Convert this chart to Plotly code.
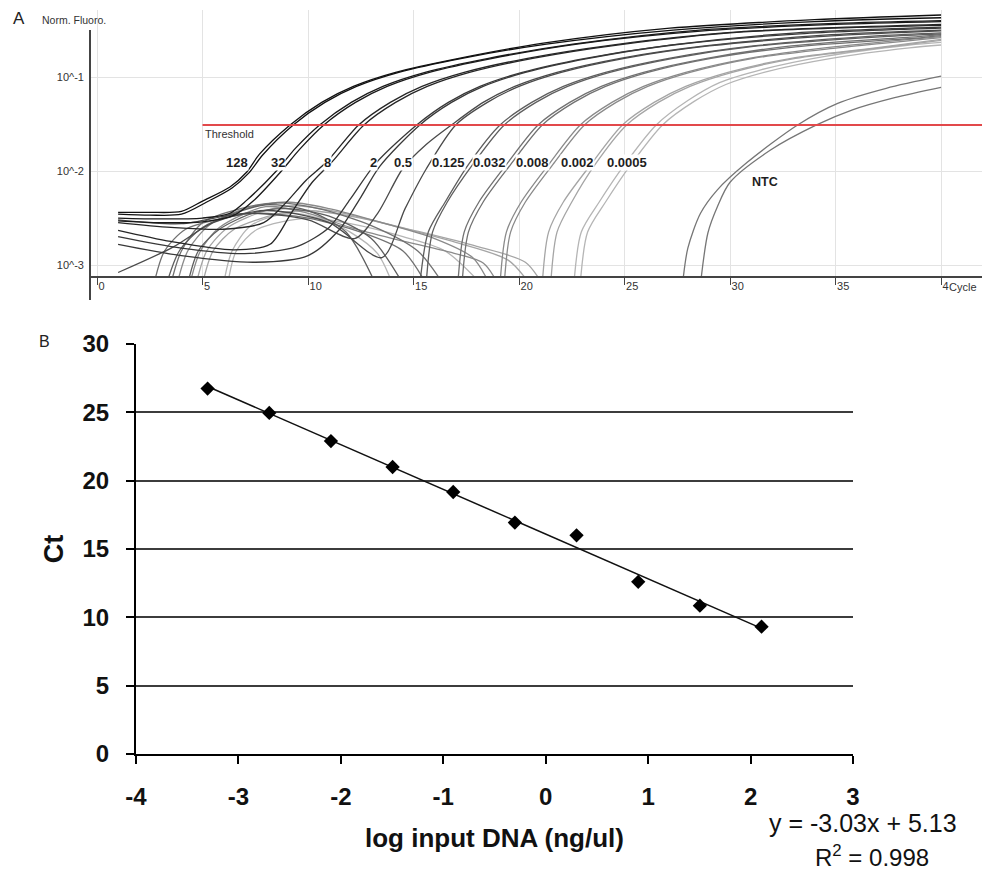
import numpy as np
import plotly.graph_objects as go

# ---------------- Panel A: real-time PCR amplification curves ----------------
# Template concentrations (ng/ul), one duplicate pair of runs per dilution
conc_labels = ["128", "32", "8", "2", "0.5", "0.125", "0.032", "0.008", "0.002", "0.0005"]
conc_ng_ul = [128, 32, 8, 2, 0.5, 0.125, 0.032, 0.008, 0.002, 0.0005]

threshold = 0.0309          # normalised fluorescence threshold
threshold_start = 5         # cycle where the threshold line begins

# cycle at which each concentration label sits, and the fluorescence level of the label row
label_cycle = [6.64, 8.58, 10.9, 13.08, 14.5, 16.64, 18.58, 20.66, 22.75, 25.12]
label_level = 0.0122
ntc_cycle, ntc_level = 31.66, 0.00764

GAP = (None, None)  # curve dips below zero (off the log axis)

# (cycle, normalised fluorescence) readings for every run
run_128a = [(1, 0.00363), (2.5, 0.00363), (4, 0.00372), (5, 0.00479), (6.3, 0.00676), (7.1, 0.00977),
            (7.7, 0.0151), (9.15, 0.0309), (10.65, 0.0537), (12.15, 0.0794), (14.15, 0.112),
            (17.15, 0.158), (21.15, 0.229), (27.15, 0.331), (34, 0.407), (40, 0.457)]
run_128b = [(1, 0.00347), (2.5, 0.00339), (4, 0.00347), (5.2, 0.00468), (6.4, 0.00661), (7.2, 0.00955),
            (7.85, 0.0148), (9.3, 0.0309), (10.8, 0.0537), (12.3, 0.0794), (14.3, 0.112),
            (17.3, 0.158), (21.3, 0.224), (27.3, 0.316), (34, 0.389), (40, 0.427)]
run_32a = [(1, 0.00316), (3, 0.00309), (5, 0.00316), (6.3, 0.00355), (7.1, 0.0049), (8.5, 0.0100),
           (9.4, 0.0174), (10.55, 0.0309), (12.05, 0.0537), (13.55, 0.0794), (15.55, 0.112),
           (18.55, 0.158), (22.55, 0.224), (28.55, 0.316), (35, 0.372), (40, 0.398)]
run_32b = [(1, 0.00295), (3, 0.00282), (5, 0.00288), (6.5, 0.00339), (7.4, 0.00479), (8.7, 0.00977),
           (9.6, 0.0170), (10.75, 0.0309), (12.25, 0.0537), (13.75, 0.0794), (15.75, 0.112),
           (18.75, 0.158), (22.75, 0.224), (28.75, 0.309), (35, 0.363), (40, 0.389)]
run_8a = [(1, 0.00282), (3.5, 0.00251), (6, 0.0024), (7.9, 0.00282), (8.9, 0.00447), (9.9, 0.00794),
          (10.9, 0.0126), (12.4, 0.0309), (13.9, 0.0537), (15.4, 0.0794), (17.4, 0.112),
          (20.4, 0.158), (24.4, 0.219), (30.4, 0.302), (40, 0.363)]
run_8b = [(1, 0.00234), (3.5, 0.00178), (6.5, 0.00145), (8.2, 0.00166), (9.2, 0.00355), (10.2, 0.00759),
          (11.15, 0.0126), (12.65, 0.0309), (14.15, 0.0537), (15.65, 0.0794), (17.65, 0.112),
          (20.65, 0.158), (24.65, 0.219), (30.65, 0.302), (40, 0.355)]
run_2a = [(1, 0.0020), (4, 0.00151), (7, 0.00132), (9.5, 0.00158), (11, 0.00251), (12, 0.00501),
          (13.2, 0.0120), (15.15, 0.0309), (16.65, 0.0537), (18.15, 0.0794), (20.15, 0.112),
          (23.15, 0.158), (27.15, 0.219), (33.15, 0.295), (40, 0.339)]
run_2b = [(1, 0.00166), (4, 0.00126), (7.5, 0.00107), (10, 0.00126), (11.5, 0.0024), (12.5, 0.00525),
          (13.4, 0.0112), (15.3, 0.0309), (16.8, 0.0537), (18.3, 0.0794), (20.3, 0.112),
          (23.3, 0.158), (27.3, 0.219), (33.3, 0.288), (40, 0.331)]
run_05a = [(1, 0.00302), (4, 0.00275), (7, 0.00355), (10, 0.00302), (12.2, 0.00191), (13.3, 0.00355),
           (14.5, 0.0107), (15.6, 0.0191), (16.8, 0.0309), (18.3, 0.0537), (19.8, 0.0794),
           (21.8, 0.112), (24.8, 0.158), (28.8, 0.214), (34.8, 0.282), (40, 0.316)]
run_05b = [(1, 0.000832), (3.6, 0.00155), (5.5, 0.00282), (8, 0.0038), (11, 0.00282), (13.5, 0.0012),
           (14.6, 0.00398), (15.6, 0.0105), (17.0, 0.0309), (18.5, 0.0537), (20.0, 0.0794),
           (22.0, 0.112), (25.0, 0.158), (29.0, 0.214), (35.0, 0.275), (40, 0.309)]
run_0125a = [(3.3, 0.000631), (3.9, 0.00141), (5.0, 0.00251), (6.5, 0.00355), (8.0, 0.00437),
             (10.0, 0.0038), (11.8, 0.00224), (13.2, 0.000631), GAP,
             (15.3, 0.000631), (15.7, 0.00224), (16.5, 0.00468), (17.6, 0.0117), (19.1, 0.0309),
             (20.6, 0.0537), (22.1, 0.0794), (24.1, 0.112), (27.1, 0.158), (31.1, 0.214),
             (37.1, 0.275), (40, 0.295)]
run_0125b = [(4.3, 0.000631), (4.8, 0.00141), (5.8, 0.0024), (7.5, 0.00363), (9.0, 0.00398),
             (11.0, 0.00331), (13.0, 0.00191), (14.5, 0.000631), GAP,
             (15.6, 0.000631), (15.9, 0.00224), (16.6, 0.00468), (17.8, 0.0117), (19.3, 0.0309),
             (20.8, 0.0537), (22.3, 0.0794), (24.3, 0.112), (27.3, 0.158), (31.3, 0.214),
             (37.3, 0.269), (40, 0.288)]
run_0032a = [(2.7, 0.000631), (3.2, 0.00141), (4.2, 0.0024), (6.0, 0.00316), (7.5, 0.00355),
             (10.0, 0.00316), (12.5, 0.00224), (14.5, 0.00141), (15.6, 0.000631), GAP,
             (17.1, 0.000631), (17.4, 0.00224), (18.1, 0.00468), (19.4, 0.0117), (20.9, 0.0309),
             (22.4, 0.0537), (23.9, 0.0794), (25.9, 0.112), (28.9, 0.158), (32.9, 0.214),
             (38.9, 0.269), (40, 0.282)]
run_0032b = [(3.5, 0.000631), (4.0, 0.00141), (5.0, 0.00282), (6.8, 0.00398), (8.5, 0.00457),
             (10.5, 0.00398), (13.0, 0.00263), (15.2, 0.00141), (16.4, 0.000631), GAP,
             (17.3, 0.000631), (17.6, 0.00224), (18.3, 0.00468), (19.6, 0.0117), (21.1, 0.0309),
             (22.6, 0.0537), (24.1, 0.0794), (26.1, 0.112), (29.1, 0.158), (33.1, 0.209),
             (39.1, 0.263), (40, 0.275)]
run_0008a = [(3.8, 0.000631), (4.3, 0.00141), (5.3, 0.00263), (7.0, 0.00398), (9.0, 0.00468),
             (11.0, 0.00398), (13.5, 0.00282), (16.0, 0.00191), (17.8, 0.0012), (18.6, 0.000631), GAP,
             (19.1, 0.000631), (19.4, 0.00224), (20.1, 0.00468), (21.4, 0.0117), (22.9, 0.0309),
             (24.4, 0.0537), (25.9, 0.0794), (27.9, 0.112), (30.9, 0.158), (34.9, 0.209),
             (40, 0.269)]
run_0008b = [(4.4, 0.000631), (4.9, 0.00141), (5.8, 0.00251), (8.0, 0.00417), (10.0, 0.00355),
             (12.0, 0.00251), (14.0, 0.00191), (16.5, 0.00141), (18.3, 0.00105), (19.0, 0.000631), GAP,
             (19.3, 0.000631), (19.6, 0.00224), (20.3, 0.00468), (21.6, 0.0117), (23.1, 0.0309),
             (24.6, 0.0537), (26.1, 0.0794), (28.1, 0.112), (31.1, 0.158), (35.1, 0.204),
             (40, 0.263)]
run_0002a = [(4.7, 0.000631), (5.2, 0.00141), (6.2, 0.00251), (8.0, 0.0038), (9.5, 0.00427),
             (11.5, 0.00363), (14.0, 0.00263), (17.0, 0.00174), (19.5, 0.00112), (20.5, 0.000631), GAP,
             (21.1, 0.000631), (21.4, 0.00224), (22.1, 0.00468), (23.4, 0.0117), (24.9, 0.0309),
             (26.4, 0.0537), (27.9, 0.0794), (29.9, 0.112), (32.9, 0.158), (36.9, 0.204),
             (40, 0.251)]
run_0002b = [(5.0, 0.000631), (5.5, 0.00141), (6.5, 0.0024), (8.5, 0.00347), (10.0, 0.0038),
             (12.5, 0.00316), (15.0, 0.00234), (18.0, 0.00158), (20.3, 0.00107), (21.1, 0.000631), GAP,
             (21.5, 0.000631), (21.8, 0.00224), (22.5, 0.00468), (23.6, 0.0117), (25.1, 0.0309),
             (26.6, 0.0537), (28.1, 0.0794), (30.1, 0.112), (33.1, 0.158), (37.1, 0.204),
             (40, 0.245)]
run_00005a = [(6.0, 0.000631), (6.4, 0.00141), (7.3, 0.00263), (9.0, 0.00355), (10.5, 0.00316),
              (12.0, 0.00224), (13.3, 0.00132), (14.0, 0.000631), GAP,
              (22.6, 0.000631), (22.95, 0.00224), (23.8, 0.00468), (25.0, 0.0117), (26.5, 0.0309),
              (28.0, 0.0562), (29.5, 0.0871), (31.5, 0.120), (34.5, 0.166), (38.5, 0.219),
              (40, 0.234)]
run_00005b = [(6.2, 0.000631), (6.6, 0.00141), (7.6, 0.0024), (10.0, 0.00316), (12.0, 0.00275),
              (14.5, 0.0020), (16.5, 0.00141), (18.2, 0.000631), GAP,
              (22.9, 0.000631), (23.25, 0.00224), (24.1, 0.00468), (25.3, 0.0117), (26.8, 0.0309),
              (28.3, 0.055), (29.8, 0.0832), (31.8, 0.115), (34.8, 0.158), (38.5, 0.204),
              (40, 0.219)]
run_ntc_a = [(27.75, 0.000631), (28.0, 0.00151), (28.6, 0.00355), (29.4, 0.00631), (30.8, 0.0123),
             (33.2, 0.0309), (35.1, 0.0525), (37.4, 0.0759), (40, 0.102)]
run_ntc_b = [(28.6, 0.000631), (28.95, 0.00219), (29.4, 0.00417), (30.0, 0.00759), (31.9, 0.0166),
             (34.1, 0.0309), (35.8, 0.0447), (37.8, 0.0603), (40, 0.0776)]

runs_by_dilution = [
    (run_128a, run_128b), (run_32a, run_32b), (run_8a, run_8b), (run_2a, run_2b),
    (run_05a, run_05b), (run_0125a, run_0125b), (run_0032a, run_0032b),
    (run_0008a, run_0008b), (run_0002a, run_0002b), (run_00005a, run_00005b),
]
ntc_runs = [run_ntc_a, run_ntc_b]

# cycle axis ticks; the last label is cut short by the "Cycle" caption
cycle_ticks = [0, 5, 10, 15, 20, 25, 30, 35, 40]
cycle_tick_text = ["0", "5", "10", "15", "20", "25", "30", "35", "4"]

# ---------------- Panel B: standard curve ----------------
ct_values = [9.32, 10.85, 12.6, 16.0, 16.93, 19.17, 21.0, 22.9, 24.96, 26.74]
log_ticks = [-4, -3, -2, -1, 0, 1, 2, 3]
log_tick_text = ["-4", "-3", "-2", "-1", "0", "1", "2", "3"]
equation_text = "y = -3.03x + 5.13"
r2_text = "R<sup>2</sup> = 0.998"

# ---------------- styling ----------------
W, H = 982, 873
FONT = "Liberation Sans, Arial, sans-serif"
dilution_colors = ["#111111", "#1a1a1a", "#262626", "#383838", "#4a4a4a",
                   "#5e5e5e", "#717171", "#8a8a8a", "#a5a5a5", "#b5b5b5"]
ntc_color = "#767676"
red = "#e2494b"


def px_x(v):
    return v / W


def px_y(v):
    return 1 - v / H


fig = go.Figure()


def add_run(run, color):
    xs = [p[0] for p in run]
    ys = [p[1] for p in run]
    fig.add_trace(go.Scatter(
        x=xs, y=ys, mode="lines", xaxis="x", yaxis="y",
        line=dict(color=color, width=1.3, shape="spline", smoothing=0.8),
        connectgaps=False, hoverinfo="skip", showlegend=False))


# lighter runs first so the dark, high-concentration curves sit on top
for runs, color in reversed(list(zip(runs_by_dilution, dilution_colors))):
    for run in runs:
        add_run(run, color)
for run in ntc_runs:
    add_run(run, ntc_color)

# threshold line
fig.add_trace(go.Scatter(
    x=[threshold_start, 45], y=[threshold, threshold], mode="lines", xaxis="x", yaxis="y",
    line=dict(color=red, width=2), hoverinfo="skip", showlegend=False))

# standard curve: points and least-squares trend line
log_input = np.log10(np.array(conc_ng_ul, dtype=float))
slope, intercept = np.polyfit(log_input, ct_values, 1)
fit_x = np.array([log_input.min(), log_input.max()])
fig.add_trace(go.Scatter(
    x=fit_x, y=slope * fit_x + intercept, mode="lines", xaxis="x2", yaxis="y2",
    line=dict(color="#111111", width=1.5), hoverinfo="skip", showlegend=False))
fig.add_trace(go.Scatter(
    x=log_input, y=ct_values, mode="markers", xaxis="x2", yaxis="y2",
    marker=dict(symbol="diamond", size=11, color="#000000"),
    hoverinfo="skip", showlegend=False))

annotations = []
# concentration labels on the amplification plot
for lab, cyc in zip(conc_labels, label_cycle):
    annotations.append(dict(
        x=cyc, y=np.log10(label_level), xref="x", yref="y", text=f"<b>{lab}</b>",
        showarrow=False, font=dict(size=13, color="#1e1e1e", family=FONT),
        bgcolor="white", borderpad=0))
annotations.append(dict(
    x=ntc_cycle, y=np.log10(ntc_level), xref="x", yref="y", text="<b>NTC</b>",
    showarrow=False, font=dict(size=12.5, color="#1e1e1e", family=FONT)))
annotations.append(dict(
    x=threshold_start, y=np.log10(threshold), xref="x", yref="y", text="Threshold",
    xanchor="left", yanchor="top", yshift=-1, showarrow=False,
    font=dict(size=11, color="#333333", family=FONT)))
annotations.append(dict(
    x=px_x(946.5), y=px_y(287), xref="paper", yref="paper", text="Cycle",
    xanchor="left", yanchor="middle", showarrow=False,
    font=dict(size=11, color="#333333", family=FONT)))
annotations.append(dict(
    x=px_x(40), y=px_y(20), xref="paper", yref="paper", text="Norm. Fluoro.",
    xanchor="left", yanchor="middle", showarrow=False,
    font=dict(size=10.5, color="#333333", family=FONT)))
annotations.append(dict(
    x=px_x(11), y=px_y(18), xref="paper", yref="paper", text="A",
    xanchor="left", yanchor="middle", showarrow=False,
    font=dict(size=17, color="#222222", family=FONT)))
annotations.append(dict(
    x=px_x(37), y=px_y(342), xref="paper", yref="paper", text="B",
    xanchor="left", yanchor="middle", showarrow=False,
    font=dict(size=16, color="#222222", family=FONT)))
annotations.append(dict(
    x=px_x(863), y=px_y(823), xref="paper", yref="paper", text=equation_text,
    xanchor="center", yanchor="middle", showarrow=False,
    font=dict(size=25, color="#111111", family=FONT)))
annotations.append(dict(
    x=px_x(872), y=px_y(856), xref="paper", yref="paper", text=r2_text,
    xanchor="center", yanchor="middle", showarrow=False,
    font=dict(size=24, color="#111111", family=FONT)))

shapes = [
    # left axis of the amplification plot runs past the plotting area
    dict(type="line", xref="paper", yref="paper", x0=px_x(90), x1=px_x(90),
         y0=px_y(30), y1=px_y(300), line=dict(color="#444444", width=2)),
]

fig.update_layout(
    width=W, height=H, autosize=False,
    margin=dict(l=0, r=0, t=0, b=0, pad=0),
    paper_bgcolor="white", plot_bgcolor="white", showlegend=False,
    font=dict(family=FONT, color="#222222"),
    xaxis=dict(
        domain=[px_x(90), 1.0], range=[-0.332, 41.94], anchor="y",
        tickvals=cycle_ticks, ticktext=cycle_tick_text,
        showgrid=True, gridcolor="#e3e3e3", gridwidth=1, zeroline=False,
        showline=True, linecolor="#444444", linewidth=2,
        ticks="outside", ticklen=7, tickwidth=1, tickcolor="#444444",
        ticklabelposition="outside right", ticklabelstandoff=-1,
        tickfont=dict(size=11, color="#333333", family=FONT), automargin=False),
    yaxis=dict(
        domain=[px_y(276), px_y(10)], type="log", range=[-3.117, -0.287], anchor="x",
        tickvals=[0.1, 0.01, 0.001], ticktext=["10^-1", "10^-2", "10^-3"],
        showgrid=True, gridcolor="#e3e3e3", gridwidth=1, zeroline=False,
        showline=False, ticks="", ticklabelstandoff=5,
        tickfont=dict(size=11, color="#333333", family=FONT), automargin=False),
    xaxis2=dict(
        domain=[px_x(136), px_x(853)], range=[-4, 3], anchor="y2",
        tickvals=log_ticks, ticktext=log_tick_text, showgrid=False, zeroline=False,
        showline=True, linecolor="#000000", linewidth=2,
        ticks="outside", ticklen=8, tickwidth=1.5, tickcolor="#000000",
        ticklabelstandoff=12,
        tickfont=dict(size=24, color="#111111", family=FONT, weight="bold"),
        title=dict(text="<b>log input DNA (ng/ul)</b>", standoff=20,
                   font=dict(size=26, color="#111111", family=FONT)),
        automargin=False),
    yaxis2=dict(
        domain=[px_y(754), px_y(344)], range=[0, 30], anchor="x2",
        tick0=0, dtick=5, showgrid=True, gridcolor="#3c3c3c", gridwidth=2, zeroline=False,
        showline=True, linecolor="#000000", linewidth=2,
        ticks="outside", ticklen=8, tickwidth=1.5, tickcolor="#000000",
        ticklabelstandoff=12,
        tickfont=dict(size=24, color="#111111", family=FONT, weight="bold"),
        title=dict(text="<b>Ct</b>", standoff=11,
                   font=dict(size=27, color="#111111", family=FONT)),
        automargin=False),
    annotations=annotations,
    shapes=shapes,
)

fig.write_html("out.html")
